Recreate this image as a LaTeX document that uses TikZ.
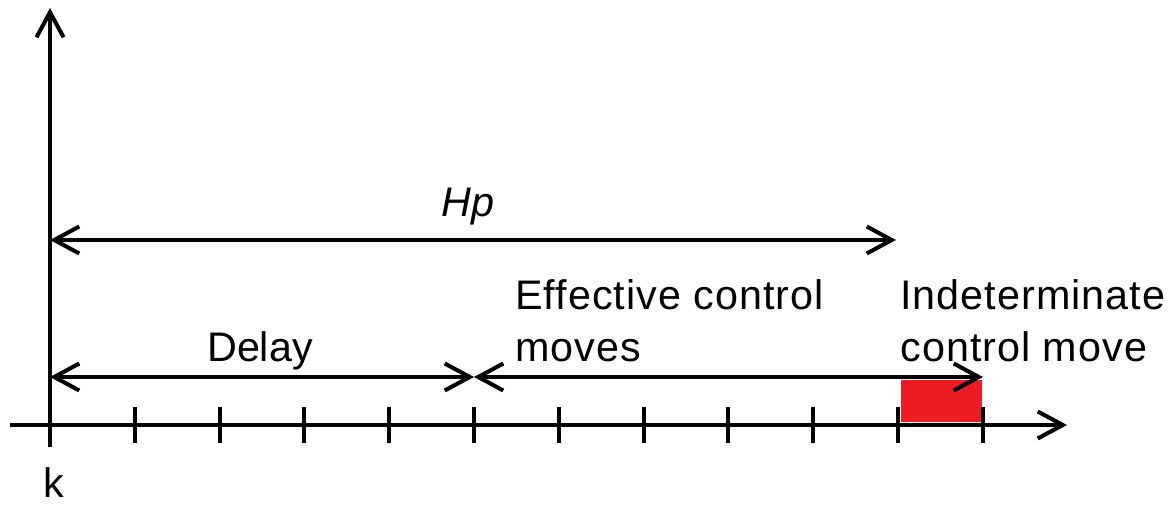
\documentclass[tikz,border=0pt]{standalone}
\usepackage{fontspec}
\setmainfont{Liberation Sans}
\usepackage{tikz}
\usetikzlibrary{arrows.meta,positioning,calc}
\definecolor{movered}{RGB}{237,28,36}
\tikzset{
  axis/.style={line width=2.3pt, -{Straight Barb[length=5mm, width=5.4mm, line width=2.3pt]}},
  tickmark/.style={line width=2.3pt},
  span/.style={line width=2.3pt, {Straight Barb[length=5mm, width=5.4mm, line width=2.3pt]}-{Straight Barb[length=5mm, width=5.4mm, line width=2.3pt]}},
  lbl/.style={inner sep=0pt, font=\fontsize{23.5}{29.6}\selectfont},
  multi/.style={lbl, align=left, anchor=base west, font=\fontsize{23.5}{29.6}\selectfont\addfontfeature{LetterSpace=2.5}}
}

\begin{document}
\begin{tikzpicture}
    \useasboundingbox (-1,-1.64) rectangle (22.5,8.5);
    % time steps along the axis
    \foreach \i in {0,...,11}
      \coordinate (t\i) at (\i*1.696,0);
    \fill[movered] (17.02,0.06) rectangle (18.64,0.9);
    \draw[axis] (-0.8,0) -- (20.34,0);
    \draw[axis] (0,-0.44) -- (0,8.34);
    \foreach \i in {1,...,11}
      \draw[tickmark] ($(t\i)+(0,-0.36)$) -- ($(t\i)+(0,0.36)$);
    % horizon spans
    \coordinate (hpstart) at (0,3.7);
    \coordinate (hpend) at (16.92,3.7);
    \coordinate (dstart) at (0,0.96);
    \coordinate (dend) at (8.48,0.96);
    \coordinate (eend) at (18.66,0.96);
    \draw[span] (hpstart) -- (hpend);
    \draw[span] (dstart) -- (dend);
    \draw[span] (dend) -- (eend);
    \node[lbl, anchor=base, font=\fontsize{23.5}{29.6}\selectfont\itshape] (hp) at (8.36,4.16) {Hp};
    \node[lbl, anchor=base] (delay) at (4.2,1.26) {Delay};
    \node[multi] (effective) at (9.3,1.26) {Effective control\\moves};
    \node[multi] (indet) at (17.0,1.26) {Indeterminate\\control move};
    \node[lbl, anchor=base] (k) at (0.08,-1.46) {k};
\end{tikzpicture}
\end{document}
